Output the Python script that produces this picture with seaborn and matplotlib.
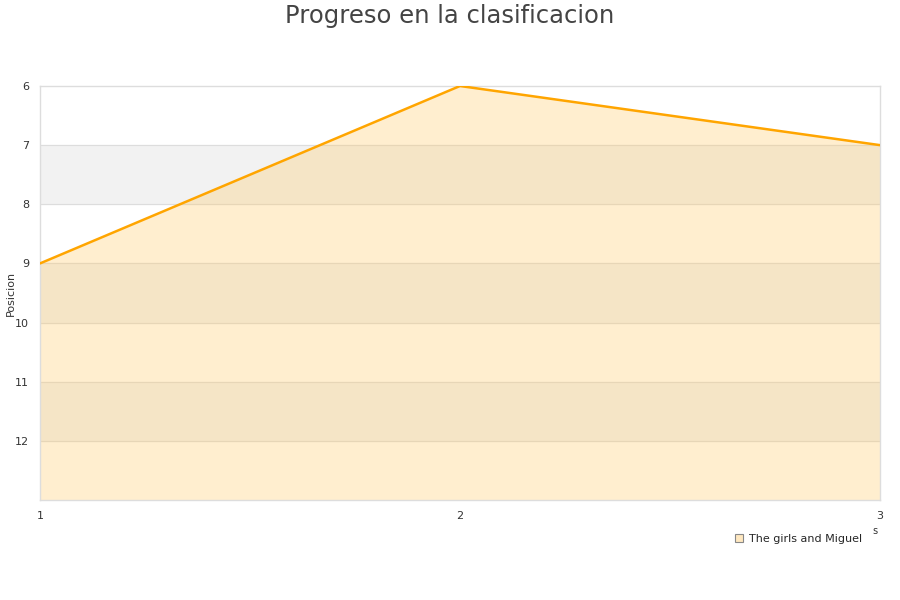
import pandas as pd
import numpy as np
import matplotlib.pyplot as plt
import seaborn as sns
from matplotlib.lines import Line2D

jornadas = [1, 2, 3]
posicion = [9, 6, 7]
serie = 'The girls and Miguel'

sns.set_style("white")
plt.rcParams['font.family'] = ['DejaVu Sans']

df = pd.DataFrame({'jornada': jornadas, 'posicion': posicion})

fig = plt.figure(figsize=(9, 6), dpi=100)
ax = fig.add_axes([40 / 900, 100 / 600, 840 / 900, 414 / 600])

# alternating bands
for y0 in [7, 9, 11]:
    ax.axhspan(y0, y0 + 1, color='#f2f2f2', zorder=0)
for y in range(7, 13):
    ax.axhline(y, color='#dddddd', linewidth=0.8, zorder=1)

ax.fill_between(df['jornada'], df['posicion'], 13, color=(1.0, 0.78, 0.38), alpha=0.3,
                linewidth=0, zorder=2)
sns.lineplot(data=df, x='jornada', y='posicion', color='#ffa500', linewidth=1.8, ax=ax, zorder=3)

ax.set_xlim(1, 3)
ax.set_ylim(13, 6)
ax.set_xticks(jornadas)
ax.set_yticks(range(6, 13))
ax.tick_params(axis='both', length=0, labelsize=8, colors='#333333', pad=8)
ax.set_xlabel('')
ax.set_ylabel('')
for s in ax.spines.values():
    s.set_color('#dddddd')
    s.set_linewidth(1)

fig.text(11 / 900, 1 - 293 / 600, 'Posicion', rotation=90, ha='center', va='center',
         fontsize=8, color='#333333')
fig.text(0.5, 1 - 16 / 600, 'Progreso en la clasificacion', ha='center', va='center',
         fontsize=17.5, color='#444444')
fig.text(875 / 900, 1 - 531 / 600, 's', ha='center', va='center', fontsize=7, color='#333333')

handle = Line2D([], [], marker='s', linestyle='none', markersize=6,
                markerfacecolor='#ffe8c0', markeredgecolor='#888888', markeredgewidth=0.8)
fig.legend([handle], [serie], loc='center right', bbox_to_anchor=(868 / 900, 1 - 539 / 600),
           frameon=False, fontsize=8, handletextpad=0.4, borderpad=0, handlelength=1)

fig.savefig('out.png', dpi=100)
